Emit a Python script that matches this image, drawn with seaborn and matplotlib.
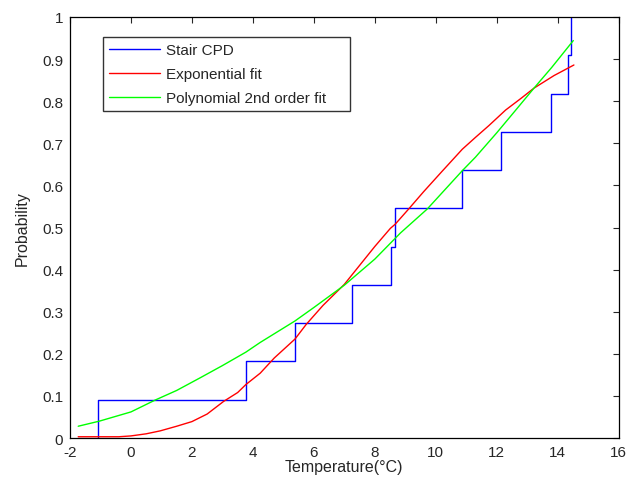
import numpy as np
import pandas as pd
import matplotlib
matplotlib.use("Agg")
import matplotlib.pyplot as plt
import seaborn as sns

# Escalones (CPD empirica)
stair_x = [-1.07, -1.07, 3.77, 5.38, 7.25, 8.53, 8.67, 10.87, 12.15, 13.78, 14.34, 14.43]
stair_y = [0.0, 0.0909, 0.1818, 0.2727, 0.3636, 0.4545, 0.5455, 0.6364, 0.7273,
           0.8182, 0.9091, 1.0]

# Ajuste exponencial
exp_x = [-1.73, -1.0, -0.4, 0.0, 0.5, 0.96, 1.5, 2.0, 2.5, 3.04, 3.5, 3.77, 4.24,
         4.7, 5.38, 5.75, 6.3, 7.0, 7.5, 8.0, 8.51, 8.67, 9.11, 9.6, 10.2, 10.87,
         11.3, 11.74, 12.29, 12.8, 13.22, 13.88, 14.53]
exp_y = [0.003, 0.003, 0.003, 0.005, 0.010, 0.017, 0.028, 0.039, 0.057, 0.087,
         0.108, 0.127, 0.154, 0.190, 0.235, 0.270, 0.315, 0.365, 0.410, 0.455,
         0.498, 0.508, 0.544, 0.585, 0.633, 0.686, 0.714, 0.742, 0.779, 0.807,
         0.831, 0.861, 0.886]

# Ajuste polinomial de 2do orden
pol_x = [-1.73, -1.04, 0.0, 0.79, 1.5, 2.27, 3.0, 3.77, 4.24, 5.38, 6.0, 7.0,
         8.0, 8.84, 9.72, 10.87, 11.3, 12.0, 12.6, 13.22, 13.8, 14.51]
pol_y = [0.028, 0.040, 0.062, 0.090, 0.113, 0.143, 0.172, 0.204, 0.227, 0.278,
         0.310, 0.363, 0.425, 0.487, 0.544, 0.635, 0.667, 0.725, 0.777, 0.831,
         0.880, 0.944]

sns.set_style("white")
plt.rcParams["font.family"] = ["Liberation Sans", "DejaVu Sans"]
plt.rcParams["axes.unicode_minus"] = False
plt.rcParams["xtick.direction"] = "in"
plt.rcParams["ytick.direction"] = "in"

fig = plt.figure(figsize=(6.27, 4.85), dpi=100)
ax = fig.add_axes([0.1116, 0.0948, 0.8752, 0.8681])

df_stair = pd.DataFrame({"x": stair_x, "y": stair_y})
df_exp = pd.DataFrame({"x": exp_x, "y": exp_y})
df_pol = pd.DataFrame({"x": pol_x, "y": pol_y})

sns.lineplot(data=df_stair, x="x", y="y", ax=ax, color=(0, 0, 1), lw=1.0,
             drawstyle="steps-post", estimator=None, sort=False, label="Stair CPD")
sns.lineplot(data=df_exp, x="x", y="y", ax=ax, color=(1, 0, 0), lw=1.0,
             estimator=None, sort=False, label="Exponential fit")
sns.lineplot(data=df_pol, x="x", y="y", ax=ax, color=(0, 1, 0), lw=1.0,
             estimator=None, sort=False, label="Polynomial 2nd order fit")

ax.set_xlim(-2, 16)
ax.set_ylim(0, 1)
ax.set_xticks(np.arange(-2, 17, 2))
ax.set_yticks([0, 0.1, 0.2, 0.3, 0.4, 0.5, 0.6, 0.7, 0.8, 0.9, 1])
ax.set_yticklabels(["0", "0.1", "0.2", "0.3", "0.4", "0.5", "0.6", "0.7", "0.8", "0.9", "1"])
ax.tick_params(axis="both", which="both", labelsize=11, length=4, width=0.8,
               top=True, right=True)
ax.tick_params(axis="x", pad=5)
ax.tick_params(axis="y", pad=5)

for s in ax.spines.values():
    s.set_color("black")
    s.set_linewidth(0.9)

ax.set_xlabel("Temperature(°C)", fontsize=11.5, labelpad=0)
ax.set_ylabel("Probability", fontsize=11.5, labelpad=9)

# caja de leyenda mas ancha, como en MATLAB
leg = ax.legend(loc="upper left", bbox_to_anchor=(0.0602, 0.5, 0.4507, 0.4525),
                mode="expand", fontsize=11, frameon=True, fancybox=False,
                handlelength=3.3, handletextpad=0.4, borderpad=0.4,
                labelspacing=0.65, borderaxespad=0)
leg.get_frame().set_edgecolor("black")
leg.get_frame().set_linewidth(1.0)

fig.savefig("out.png", dpi=100)
